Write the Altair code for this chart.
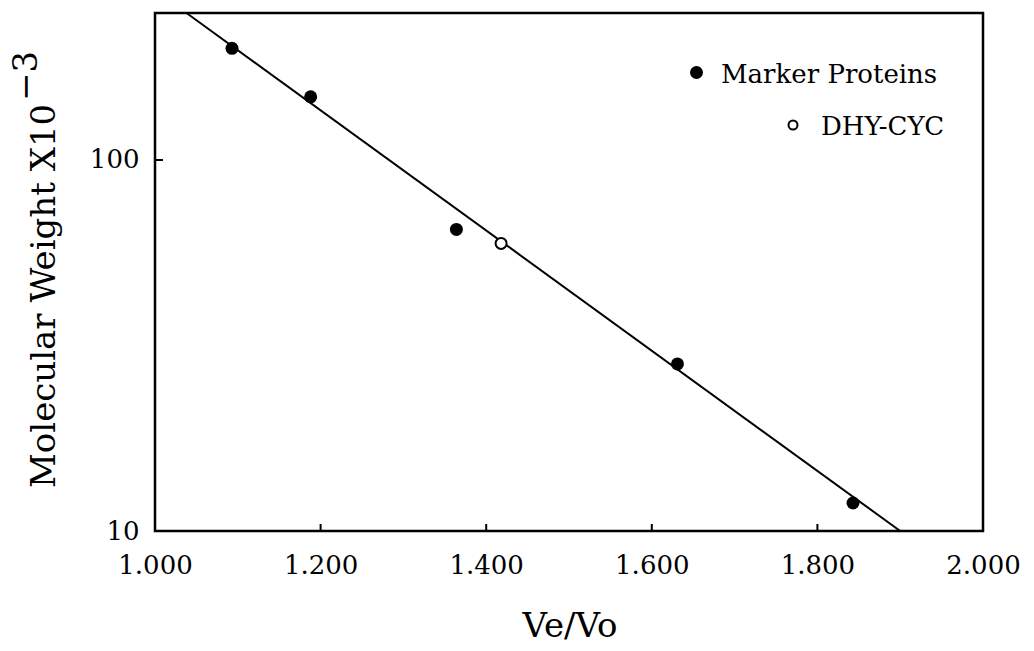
import altair as alt
import pandas as pd

# ---- data ----
ve_vo_markers = [1.093, 1.188, 1.364, 1.631, 1.843]
mw_markers = [200, 148, 65, 28.2, 11.9]
ve_vo_sample = [1.418]
mw_sample = [59.6]
fit_ve_vo = [1.038, 1.900]
fit_mw = [249, 10]
x_tick_values = [1.0, 1.2, 1.4, 1.6, 1.8, 2.0]
x_inner_ticks = [1.2, 1.4, 1.6, 1.8]
y_tick_values = [10, 100]
y_inner_ticks = [100]
legend_labels = ["Marker Proteins", "DHY-CYC"]
x_title = "Ve/Vo"
y_title = "Molecular Weight X10"
y_title_sup = "\u22123"

W, H = 828, 518
FONT = "DejaVu Serif"

x_scale = alt.Scale(domain=[1.0, 2.0], nice=False, zero=False)
y_scale = alt.Scale(type="log", domain=[10, 249], nice=False)

x_axis = alt.Axis(values=x_tick_values, format=".3f", title=None, grid=False,
                  ticks=False, tickSize=0, domain=False, labelFont=FONT,
                  labelFontSize=26, labelColor="black", labelPadding=42,
                  labelBaseline="alphabetic", labelFlush=False, labelOverlap=False)
y_axis = alt.Axis(values=y_tick_values, format="d", title=None, grid=False,
                  ticks=False, tickSize=0, domain=False, labelFont=FONT,
                  labelFontSize=26, labelColor="black", labelPadding=16,
                  labelBaseline="middle", labelOverlap=False)

X = lambda: alt.X("x:Q", scale=x_scale, axis=x_axis)
Y = lambda: alt.Y("y:Q", scale=y_scale, axis=y_axis)

markers = pd.DataFrame({"x": ve_vo_markers, "y": mw_markers})
sample = pd.DataFrame({"x": ve_vo_sample, "y": mw_sample})
fit = pd.DataFrame({"x": fit_ve_vo, "y": fit_mw})
xt = pd.DataFrame({"x": x_inner_ticks})
yt = pd.DataFrame({"y": y_inner_ticks})

fit_line = alt.Chart(fit).mark_line(color="black", strokeWidth=2).encode(x=X(), y=Y())
pts = alt.Chart(markers).mark_point(filled=True, shape="circle", size=169,
                                      color="black", opacity=1).encode(x=X(), y=Y())
open_pts = alt.Chart(sample).mark_point(filled=False, shape="circle", size=121,
                                          color="black", strokeWidth=2, opacity=1,
                                          fill="white", fillOpacity=1).encode(x=X(), y=Y())

x_ticks_layer = alt.Chart(xt).mark_rule(color="black", strokeWidth=2).encode(
    x=X(), y=alt.value(H), y2=alt.value(H - 7))
y_ticks_layer = alt.Chart(yt).mark_rule(color="black", strokeWidth=2).encode(
    y=Y(), x=alt.value(0), x2=alt.value(8))

# axis titles
ytitle = alt.Chart(pd.DataFrame({"t": [y_title]})).mark_text(
    font=FONT, fontSize=34, angle=270, align="left", baseline="alphabetic", color="black"
).encode(x=alt.value(-100), y=alt.value(475), text="t:N")
ysup = alt.Chart(pd.DataFrame({"t": [y_title_sup]})).mark_text(
    font=FONT, fontSize=34, angle=270, align="left", baseline="alphabetic", color="black"
).encode(x=alt.value(-118), y=alt.value(88), text="t:N")
xtitle = alt.Chart(pd.DataFrame({"t": [x_title]})).mark_text(
    font=FONT, fontSize=34, align="center", baseline="alphabetic", color="black"
).encode(x=alt.value(415), y=alt.value(624), text="t:N")

# legend
leg1_sym = alt.Chart(pd.DataFrame({"t": [legend_labels[0]]})).mark_point(
    filled=True, shape="circle", size=169, color="black", opacity=1
).encode(x=alt.value(541.5), y=alt.value(59.5))
leg1_txt = alt.Chart(pd.DataFrame({"t": [legend_labels[0]]})).mark_text(
    font=FONT, fontSize=26, align="left", baseline="alphabetic", color="black"
).encode(x=alt.value(566), y=alt.value(70), text="t:N")
leg2_sym = alt.Chart(pd.DataFrame({"t": [legend_labels[1]]})).mark_point(
    filled=False, shape="circle", size=81, color="black", strokeWidth=2, opacity=1
).encode(x=alt.value(638), y=alt.value(112))
leg2_txt = alt.Chart(pd.DataFrame({"t": [legend_labels[1]]})).mark_text(
    font=FONT, fontSize=26, align="left", baseline="alphabetic", color="black"
).encode(x=alt.value(666), y=alt.value(122), text="t:N")

chart = alt.layer(
    fit_line, pts, open_pts, x_ticks_layer, y_ticks_layer,
    ytitle, ysup, xtitle, leg1_sym, leg1_txt, leg2_sym, leg2_txt
).properties(
    width=W, height=H,
    autosize=alt.AutoSizeParams(type="none"),
    padding={"left": 155, "top": 13, "right": 51, "bottom": 120},
    background="white",
).configure_view(stroke="black", strokeWidth=2.5)

chart.save("out.html", embed_options={"renderer": "svg", "actions": False})
